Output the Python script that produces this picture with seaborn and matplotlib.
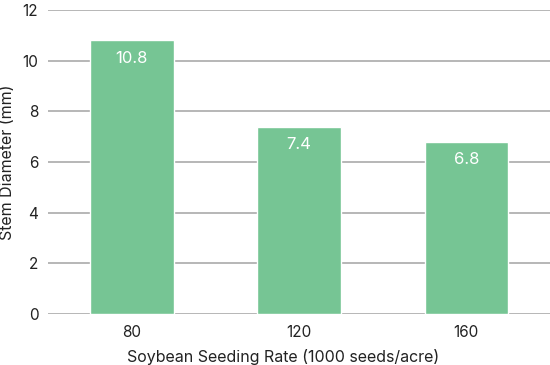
import matplotlib
matplotlib.use("Agg")
import matplotlib.pyplot as plt
import seaborn as sns
import pandas as pd

rates = ["80", "120", "160"]
diameters = [10.8, 7.4, 6.8]
yticks = [0, 2, 4, 6, 8, 10, 12]

sns.set_theme(style="white")
plt.rcParams['font.family'] = ['Inter', 'DejaVu Sans']

df = pd.DataFrame({"rate": rates, "diam": diameters})

fig = plt.figure(figsize=(5.5, 3.65), dpi=100)
ax = fig.add_axes([0.0873, 0.1397, 0.9127, 0.833])
sns.barplot(data=df, x="rate", y="diam", color="#76c594", saturation=1,
            width=0.5, ax=ax, zorder=3)
ax.set_ylim(0, 12)
ax.set_xlim(-0.5, 2.5)
ax.set_yticks(yticks)
ax.yaxis.grid(True, color="#aaaaaa", linewidth=1.2, zorder=0)
ax.set_axisbelow(True)
for s in ax.spines.values():
    s.set_visible(False)
ax.tick_params(axis='y', length=0, labelsize=11, colors="#222222", pad=7)
ax.tick_params(axis='x', length=0, labelsize=11, colors="#222222", pad=8)
ax.set_xlabel("Soybean Seeding Rate (1000 seeds/acre)", fontsize=11.5, color="#222222", labelpad=5)
ax.xaxis.set_label_coords(0.469, -0.115)
ax.set_ylabel("Stem Diameter (mm)", fontsize=11.5, color="#222222", labelpad=5)
for i, v in enumerate(diameters):
    ax.text(i, v - 0.42, f"{v}", ha="center", va="top", color="white", fontsize=12)
fig.savefig("out.png", dpi=100)
